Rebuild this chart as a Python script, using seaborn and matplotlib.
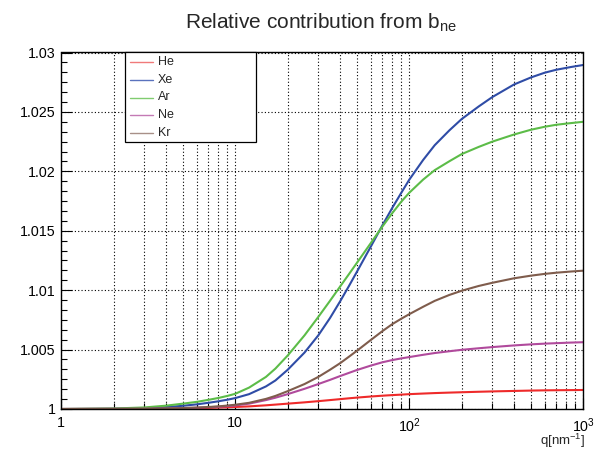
import numpy as np
import pandas as pd
import matplotlib
matplotlib.use("Agg")
import matplotlib.pyplot as plt
import matplotlib.ticker as mticker
from matplotlib.lines import Line2D
from matplotlib.patches import Rectangle
import seaborn as sns

# ---- data ----
q = [1, 2, 3, 4, 5, 6, 7, 8, 9, 10, 12, 15, 17, 20, 25, 30, 35, 40, 45, 50,
     60, 70, 80, 90, 100, 120, 140, 170, 200, 250, 300, 400, 500, 600, 700, 850, 1000]
he = [1.0, 1.00001, 1.00002, 1.00003, 1.00005, 1.00007, 1.00009, 1.00012, 1.00014, 1.00017,
      1.00022, 1.00031, 1.00037, 1.00045, 1.00056, 1.00066, 1.00075, 1.00083, 1.00090, 1.00096,
      1.00105, 1.00112, 1.00117, 1.00121, 1.00125, 1.00130, 1.00134, 1.00138, 1.00141, 1.00145,
      1.00148, 1.00152, 1.00155, 1.00157, 1.00158, 1.00159, 1.00160]
xe = [1.0, 1.00002, 1.00007, 1.00016, 1.00027, 1.00039, 1.00052, 1.00065, 1.00078, 1.00092,
      1.00125, 1.00190, 1.00240, 1.00330, 1.00475, 1.00620, 1.00765, 1.00905, 1.01035, 1.01155,
      1.01365, 1.01545, 1.01695, 1.01820, 1.01930, 1.02095, 1.02220, 1.02345, 1.02440, 1.02545,
      1.02625, 1.02731, 1.02790, 1.02830, 1.02855, 1.02878, 1.02895]
ar = [1.0, 1.00004, 1.00013, 1.00028, 1.00045, 1.00060, 1.00077, 1.00093, 1.00110, 1.00128,
      1.00180, 1.00270, 1.00340, 1.00450, 1.00620, 1.00775, 1.00910, 1.01030, 1.01135, 1.01230,
      1.01395, 1.01535, 1.01650, 1.01745, 1.01820, 1.01930, 1.02010, 1.02085, 1.02145, 1.02205,
      1.02250, 1.02310, 1.02350, 1.02375, 1.02392, 1.02406, 1.02417]
ne = [1.0, 1.00001, 1.00002, 1.00004, 1.00007, 1.00011, 1.00015, 1.00019, 1.00024, 1.00030,
      1.00045, 1.00075, 1.00095, 1.00125, 1.00170, 1.00210, 1.00245, 1.00277, 1.00304, 1.00328,
      1.00365, 1.00393, 1.00412, 1.00426, 1.00437, 1.00456, 1.00471, 1.00486, 1.00498, 1.00511,
      1.00521, 1.00535, 1.00544, 1.00550, 1.00554, 1.00559, 1.00562]
kr = [1.0, 1.00001, 1.00002, 1.00005, 1.00008, 1.00012, 1.00017, 1.00022, 1.00029, 1.00036,
      1.00052, 1.00085, 1.00110, 1.00150, 1.00210, 1.00270, 1.00330, 1.00385, 1.00440, 1.00490,
      1.00580, 1.00655, 1.00715, 1.00760, 1.00798, 1.00860, 1.00910, 1.00960, 1.00995, 1.01035,
      1.01062, 1.01100, 1.01122, 1.01137, 1.01147, 1.01157, 1.01164]

series = ["He", "Xe", "Ar", "Ne", "Kr"]
colors = {"He": "#ee2a2a", "Xe": "#2f4ca6", "Ar": "#5cbc48", "Ne": "#b04a9c", "Kr": "#7f5c4c"}
legend_colors = {"He": "#f07a7a", "Xe": "#5a72bd", "Ar": "#80cc70", "Ne": "#c47ab5", "Kr": "#a89088"}
x_ticklabels = ["1", "10", r"$10^{2}$", r"$10^{3}$"]
y_ticks = [1.0, 1.005, 1.01, 1.015, 1.02, 1.025, 1.03]
y_ticklabels = ["1", "1.005", "1.01", "1.015", "1.02", "1.025", "1.03"]

frames = []
for name, vals in zip(series, [he, xe, ar, ne, kr]):
    frames.append(pd.DataFrame({"q": q, "val": vals, "gas": name}))
df = pd.concat(frames, ignore_index=True)

sns.set_style("white")
plt.rcParams["font.family"] = ["Liberation Sans", "DejaVu Sans"]
plt.rcParams["mathtext.fontset"] = "custom"
plt.rcParams["mathtext.rm"] = "Liberation Sans"
plt.rcParams["mathtext.it"] = "Liberation Sans:italic"
plt.rcParams["mathtext.bf"] = "Liberation Sans:bold"

W, H = 594.0, 450.0
fig = plt.figure(figsize=(W / 100, H / 100), dpi=100)
ax = fig.add_axes([61.3 / W, 1 - 409 / H, (583.3 - 61.3) / W, (409 - 52.5) / H])

sns.lineplot(data=df, x="q", y="val", hue="gas", hue_order=series, palette=colors,
             linewidth=1.5, ax=ax, legend=False, sort=True, estimator=None)

ax.set_xscale("log")
ax.set_xlim(1, 1000)
ax.set_ylim(1.0, 1.03)

ax.xaxis.set_major_locator(mticker.FixedLocator([1, 10, 100, 1000]))
ax.xaxis.set_major_formatter(mticker.FixedFormatter(x_ticklabels))
ax.xaxis.set_minor_locator(mticker.LogLocator(base=10, subs=np.arange(2, 10), numticks=20))
ax.xaxis.set_minor_formatter(mticker.NullFormatter())
ax.yaxis.set_major_locator(mticker.FixedLocator(y_ticks))
ax.yaxis.set_major_formatter(mticker.FixedFormatter(y_ticklabels))
ax.yaxis.set_minor_locator(mticker.AutoMinorLocator(6))

ax.grid(True, which="major", axis="y", color="black", linestyle=(0, (1, 2)), linewidth=0.8)
ax.grid(True, which="both", axis="x", color="black", linestyle=(0, (1, 2)), linewidth=0.8)

ax.tick_params(axis="both", which="both", direction="in", colors="black",
               left=True, bottom=True, top=False, right=False, labelsize=10.3)
ax.tick_params(axis="y", which="major", length=8, width=0.8, pad=4)
ax.tick_params(axis="y", which="minor", length=4.5, width=0.8)
ax.tick_params(axis="x", which="major", length=8, width=0.8, pad=5)
ax.tick_params(axis="x", which="minor", length=4.5, width=0.8)
for s in ax.spines.values():
    s.set_visible(True)
    s.set_color("black")
    s.set_linewidth(1.0)

ax.set_xlabel("")
ax.set_ylabel("")
fig.text(585 / W, 1 - 441 / H, r"q[nm$^{-1}$]", ha="right", va="center", fontsize=9.5)
fig.text(321 / W, 1 - 28.3 / H, r"Relative contribution from b$_{\rm ne}$",
         ha="center", va="baseline", fontsize=15)

# legend box drawn in figure pixel coordinates
box = Rectangle((125 / W, 1 - 141.7 / H), (256 - 125) / W, (141.7 - 52.3) / H,
                transform=fig.transFigure, facecolor="white", edgecolor="black",
                linewidth=0.9, zorder=10)
fig.add_artist(box)
for i, s in enumerate(series):
    yy = 1 - (61.7 + 17.9 * i) / H
    fig.add_artist(Line2D([130 / W, 153.3 / W], [yy, yy], transform=fig.transFigure,
                          color=legend_colors[s], lw=1.0, zorder=11))
    fig.text(157.7 / W, yy, s, ha="left", va="center", fontsize=9.0,
             family=["Liberation Sans", "DejaVu Sans"], zorder=12)

fig.savefig("out.png", dpi=100)
